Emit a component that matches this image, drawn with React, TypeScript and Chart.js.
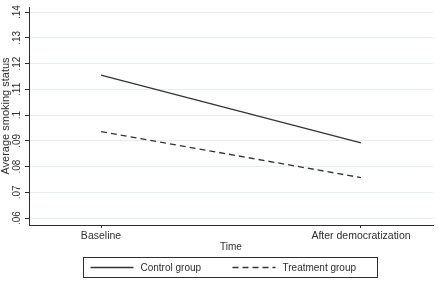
import React, { useEffect, useRef } from "react";
import { Chart, registerables } from "chart.js";

Chart.register(...registerables);

// Data
const timeLabels = ["Baseline", "After democratization"];
const controlValues = [0.1155, 0.0892];
const treatmentValues = [0.0936, 0.0757];
const yTickValues = [0.06, 0.07, 0.08, 0.09, 0.1, 0.11, 0.12, 0.13, 0.14];
const yTickLabels = [".06", ".07", ".08", ".09", ".1", ".11", ".12", ".13", ".14"];
const seriesNames = ["Control group", "Treatment group"];

const FONT = "'Liberation Sans', Arial, Helvetica, sans-serif";
const INK = "#2e2e2e";

// Boxed legend below the axis title, drawn from the datasets' own styles
const boxedLegend = {
  id: "boxedLegend",
  afterDraw(chart: any) {
    const { ctx, chartArea } = chart;
    const cx = (chartArea.left + chartArea.right) / 2 - 1;
    const boxW = 294;
    const boxH = 20;
    const boxL = Math.round(cx - boxW / 2) + 0.5;
    const boxT = 257.5;
    ctx.save();
    ctx.strokeStyle = INK;
    ctx.lineWidth = 1;
    ctx.strokeRect(boxL, boxT, boxW, boxH);
    ctx.font = `10px ${FONT}`;
    ctx.textBaseline = "middle";
    ctx.textAlign = "left";
    const midY = boxT + boxH / 2;
    chart.data.datasets.forEach((ds: any, i: number) => {
      const x0 = boxL + 7 + i * 142;
      ctx.beginPath();
      ctx.setLineDash(ds.borderDash || []);
      ctx.strokeStyle = ds.borderColor;
      ctx.lineWidth = ds.borderWidth;
      ctx.moveTo(x0, midY);
      ctx.lineTo(x0 + 43, midY);
      ctx.stroke();
      ctx.setLineDash([]);
      ctx.fillStyle = INK;
      ctx.fillText(ds.label, x0 + 50, midY + 0.5);
    });
    ctx.restore();
  },
};

export default function App() {
  const canvasRef = useRef<HTMLCanvasElement | null>(null);

  useEffect(() => {
    document.body.style.margin = "0";
    const canvas = canvasRef.current;
    if (!canvas) return;

    const chart = new Chart(canvas, {
      type: "line",
      data: {
        datasets: [
          {
            label: seriesNames[0],
            data: controlValues.map((v, i) => ({ x: i, y: v })),
            borderColor: "#333333",
            borderWidth: 1.3,
            pointRadius: 0,
            fill: false,
          },
          {
            label: seriesNames[1],
            data: treatmentValues.map((v, i) => ({ x: i, y: v })),
            borderColor: "#333333",
            borderWidth: 1.3,
            borderDash: [6, 4],
            pointRadius: 0,
            fill: false,
          },
        ],
      },
      options: {
        animation: false,
        responsive: false,
        devicePixelRatio: 1,
        layout: { padding: { top: 3, right: 5, left: 0, bottom: 0 } },
        plugins: {
          legend: { display: false },
          tooltip: { enabled: false },
        },
        scales: {
          x: {
            type: "linear",
            min: -0.277,
            max: 1.277,
            afterBuildTicks: (scale: any) => {
              scale.ticks = timeLabels.map((_, i) => ({ value: i }));
            },
            afterFit: (scale: any) => {
              scale.height = 60;
            },
            ticks: {
              callback: (v: any) => timeLabels[Number(v)] ?? "",
              font: { family: FONT, size: 10.5 },
              color: INK,
              padding: 2,
              maxRotation: 0,
              minRotation: 0,
              autoSkip: false,
            },
            grid: {
              drawOnChartArea: false,
              drawTicks: true,
              tickLength: 3,
              tickColor: INK,
              tickWidth: 1,
            },
            border: { display: true, color: INK, width: 1 },
            title: {
              display: true,
              text: "Time",
              font: { family: FONT, size: 10, lineHeight: 1.2 },
              color: INK,
              padding: { top: 0, bottom: 32 },
            },
          },
          y: {
            type: "linear",
            min: 0.0573,
            max: 0.142,
            afterBuildTicks: (scale: any) => {
              scale.ticks = yTickValues.map((v) => ({ value: v }));
            },
            afterFit: (scale: any) => {
              scale.width = 29;
            },
            ticks: {
              callback: (v: any) => {
                const idx = yTickValues.findIndex((t) => Math.abs(t - Number(v)) < 1e-9);
                return idx >= 0 ? yTickLabels[idx] : "";
              },
              font: { family: FONT, size: 10 },
              color: INK,
              padding: 1,
              minRotation: 90,
              maxRotation: 90,
              crossAlign: "center",
              autoSkip: false,
            },
            grid: {
              drawOnChartArea: true,
              color: "#e6edef",
              lineWidth: 1,
              drawTicks: true,
              tickLength: 4,
              tickColor: INK,
              tickWidth: 1,
            },
            border: { display: true, color: INK, width: 1 },
            title: {
              display: true,
              text: "Average smoking status",
              font: { family: FONT, size: 11, lineHeight: 1 },
              color: INK,
              padding: { top: 0, bottom: 0 },
            },
          },
        },
      },
      plugins: [boxedLegend],
    });

    return () => chart.destroy();
  }, []);

  return (
    <div style={{ position: "absolute", left: 0, top: 0, width: 438, height: 285, background: "#fff" }}>
      <canvas ref={canvasRef} width={438} height={285} style={{ display: "block", width: 438, height: 285 }} />
    </div>
  );
}
